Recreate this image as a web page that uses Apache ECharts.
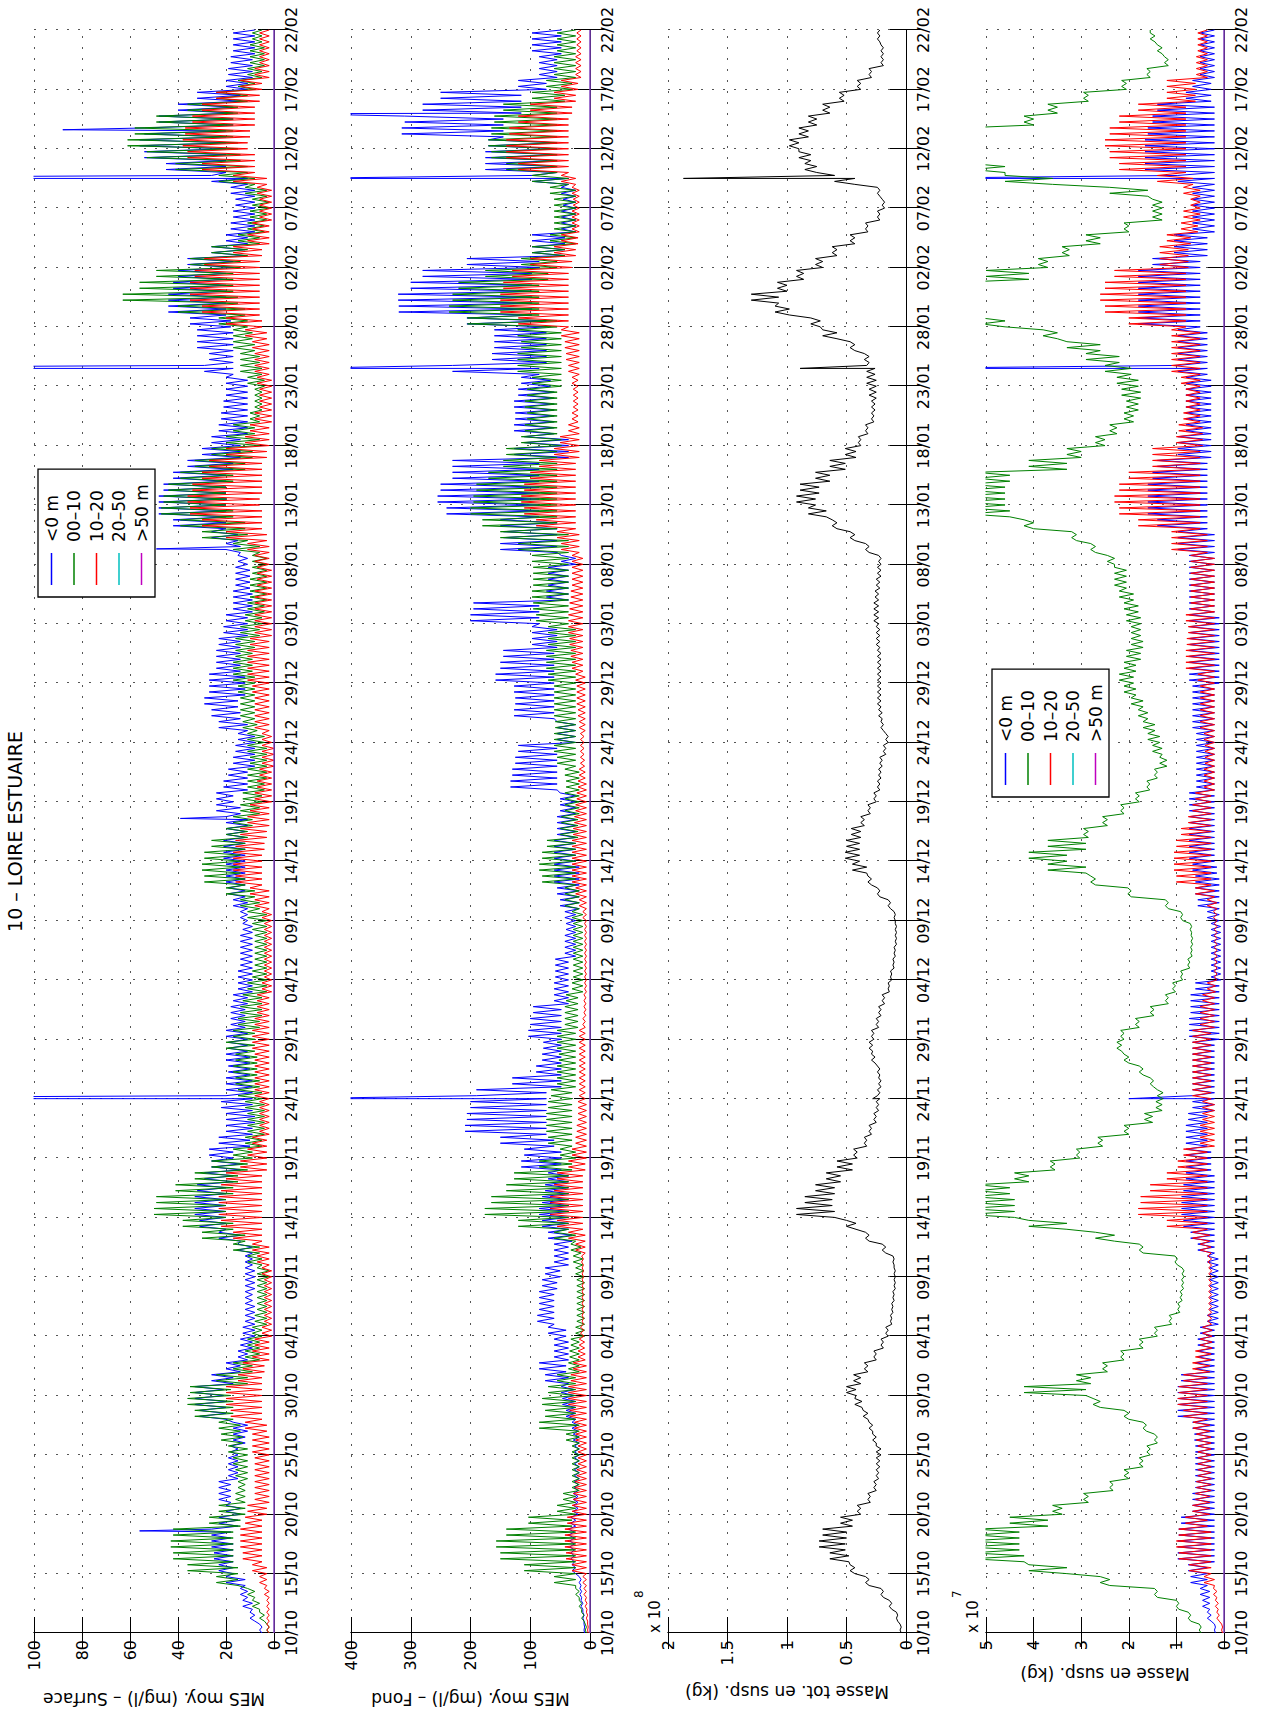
<!DOCTYPE html>
<html><head><meta charset="utf-8">
<script src="https://cdn.jsdelivr.net/npm/echarts@6/dist/echarts.min.js"></script>
<style>
html,body{margin:0;padding:0;background:#fff;overflow:hidden;}
#page{position:absolute;left:0;top:0;width:1263px;height:1711px;overflow:hidden;background:#fff;}
#chart{position:absolute;left:0;top:0;width:1711px;height:1263px;transform-origin:0 0;transform:translateY(1711px) rotate(-90deg);}
</style></head><body>
<div id="page"><div id="chart"></div></div>
<script>
// Day 0 = 10/10, day 135 = 22/02. Daily low/high of the tidal oscillation.
const dateTicks = ['10/10','15/10','20/10','25/10','30/10','04/11','09/11','14/11','19/11','24/11','29/11','04/12','09/12','14/12','19/12','24/12','29/12','03/01','08/01','13/01','18/01','23/01','28/01','02/02','07/02','12/02','17/02','22/02'];
const seriesNames = ['<0 m','00–10','10–20','20–50','>50 m'];

// Panel 1 : MES surface (mg/l)
const surfBlueLo = [5,8,9,11,12,17,17,17,18,15, 14,18,18,15,15,15,12,11,20,20, 21,17,14,11,9,8,8,8,9,8, 8,9,9,14,20,20,20,20,17,14, 17,10,9,8,9,9,9,10,10,11, 11,12,12,11,9,9,9,9,9,9, 11,11,12,12,12,12,12,12,11,14, 17,11,11,8,8,8,11,14,15,12, 12,14,14,14,11,11,9,9,10,10, 11,14,15,20,20,20,20,20,17,14, 14,11,11,11,11,11,17,17,17,17, 18,20,20,20,20,17,12,11,8,8, 8,8,11,20,20,20,20,17,17,14, 11,9,9,8,8,8];
const surfBlueHi = [6,10,13,14,20,23,25,26,26,23, 20,23,23,19,19,18,17,17,31,33, 33,26,20,15,14,13,12,12,12,12, 12,12,15,23,31,33,33,32,29,26, 27,23,20,20,22,20,20,19,20,19, 20,18,18,17,15,15,14,14,14,13, 14,17,19,20,20,21,21,20,20,24, 24,21,19,17,16,15,23,26,29,27, 27,24,24,23,21,20,17,17,16,16, 15,20,26,42,48,48,46,42,36,30, 26,23,22,21,20,20,29,27,32,32, 35,44,44,42,40,36,26,20,18,17, 16,18,26,45,54,56,54,48,40,32, 20,19,18,17,17,17];
const surfBlueSpikes = [[8.6,56],[45,300],[68.6,39],[91.3,49],[106.5,300],[122.5,300],[126.6,88]];
const surfGreenLo = [2,4,6,8,15,15,17,17,17,14, 12,12,12,11,11,11,13,14,17,17, 18,11,9,6,6,5,3,3,3,3, 2,5,6,12,17,20,20,17,15,11, 9,5,4,4,4,5,6,7,7,8, 8,6,5,5,3,3,3,3,3,3, 3,6,8,12,14,14,12,11,9,6, 5,4,3,3,3,4,7,8,8,8, 8,9,9,8,6,5,4,3,3,3, 3,6,11,12,17,20,20,17,12,9, 6,8,6,5,5,4,5,6,8,9, 11,12,15,17,17,14,11,6,4,3, 2,3,8,11,14,15,17,17,15,11, 8,5,4,4,5,5];
const surfGreenHi = [3,6,9,11,24,36,42,43,42,27, 23,16,15,16,17,19,22,23,33,36, 35,24,17,12,11,9,8,7,7,7, 7,11,17,30,38,50,49,41,33,26, 17,12,11,11,12,15,16,17,16,20, 17,15,14,13,11,9,8,8,8,9, 11,14,20,29,30,29,26,20,17,14, 13,11,11,10,11,11,13,14,14,15, 17,17,16,16,14,12,11,10,10,9, 9,17,30,39,47,46,44,39,33,26, 20,17,10,8,8,11,14,14,17,17, 23,40,63,56,49,35,26,15,11,10, 9,12,23,41,53,61,58,49,36,24, 15,11,10,10,9,8];
const surfRedLo = [2,2,2,2,3,3,5,5,5,5, 3,2,2,2,2,2,2,3,5,5, 5,5,4,2,2,1,1,1,1,1, 1,2,2,5,5,5,5,5,5,3, 3,3,2,2,2,2,2,2,2,2, 2,2,2,2,1,1,1,1,1,1, 1,2,2,5,5,5,4,3,2,2, 1,1,1,0,0,1,2,2,2,2, 2,2,2,2,1,1,1,1,1,1, 2,2,3,5,5,6,5,5,5,3, 2,2,1,1,1,1,2,2,2,3, 5,6,6,6,6,6,5,2,2,1, 1,1,3,8,8,11,10,8,8,6, 5,2,2,2,2,2];
const surfRedHi = [3,3,3,4,6,9,13,14,14,12, 11,8,8,8,8,9,9,12,18,20, 20,15,13,9,8,5,4,4,4,4, 5,7,9,17,22,23,23,22,20,14, 11,9,6,6,6,8,8,8,8,9, 9,8,7,7,5,4,4,4,4,4, 5,8,10,16,17,17,16,14,11,10, 8,7,6,5,5,5,8,8,8,9, 11,11,11,10,8,8,8,8,7,7, 8,11,20,30,35,36,34,30,27,20, 12,10,8,6,6,7,8,8,9,12, 20,30,35,35,33,29,17,11,9,6, 6,7,17,30,36,38,37,34,30,24, 14,8,6,6,6,6];

// Panel 2 : MES fond (mg/l)
const fondBlueLo = [9,10,12,14,15,24,26,26,26,24, 20,20,20,18,18,18,18,20,24,24, 26,36,40,36,36,40,60,60,60,55, 50,36,36,30,36,36,36,36,36,48, 48,60,73,73,73,73,48,48,48,48, 48,48,48,36,36,36,36,24,24,24, 24,18,18,18,18,24,24,24,24,24, 24,55,55,55,55,24,24,60,60,60, 60,60,60,55,55,85,85,36,36,36, 24,55,55,55,85,85,85,85,85,36, 36,60,60,60,60,66,85,73,73,73, 73,97,97,97,97,85,42,42,24,24, 24,24,36,55,55,55,145,145,115,115, 73,55,55,48,48,48];
const fondBlueHi = [10,12,15,17,18,30,32,34,36,32, 28,28,26,26,26,26,28,30,40,46, 48,75,85,60,60,70,88,85,85,80, 75,60,60,70,80,85,80,75,70,115, 110,150,209,206,200,190,130,90,80,78, 103,100,95,60,60,58,58,42,42,40, 42,50,55,60,60,60,60,55,55,50, 50,133,130,125,120,55,55,127,125,127, 158,150,145,97,97,200,195,73,70,70, 48,150,145,150,240,255,250,230,230,127, 110,127,125,127,120,115,230,164,160,160, 206,320,321,300,280,206,97,97,48,48, 45,48,97,175,175,170,315,310,280,250, 120,85,85,97,97,97];
const fondBlueSpikes = [[45,500],[106.5,500],[122.5,500],[127.95,500]];
const fondGreenLo = [6,10,14,18,24,24,24,24,24,30, 24,24,18,18,18,18,18,18,24,24, 24,24,18,18,18,9,9,9,9,9, 10,12,15,24,36,36,36,36,36,30, 24,30,30,30,30,30,24,24,24,24, 24,20,20,20,12,12,12,12,12,12, 12,18,18,24,24,24,24,20,20,18, 18,18,18,24,24,24,24,24,24,24, 24,24,24,24,24,36,36,36,36,36, 36,36,36,55,55,55,55,55,55,55, 48,55,55,55,55,48,48,48,48,48, 55,85,85,85,70,55,42,24,24,24, 24,24,36,55,55,55,55,55,55,42, 30,24,24,24,24,24];
const fondGreenHi = [8,14,18,24,60,110,150,157,140,103, 55,45,30,30,30,30,40,85,75,80, 70,55,36,34,32,24,22,22,22,22, 24,28,32,60,120,176,165,140,127,85, 50,70,73,73,70,65,55,55,52,55, 55,42,42,40,30,28,28,28,28,28, 30,42,42,80,85,80,72,50,48,42, 42,40,42,55,60,60,58,60,60,60, 70,73,73,70,70,90,95,97,95,95, 97,120,150,180,200,195,190,170,145,140, 115,109,105,109,105,97,121,121,115,121, 205,236,230,220,175,115,97,67,60,60, 60,67,97,140,165,170,165,160,145,97, 73,60,60,55,55,50];
const fondRedLo = [3,4,5,6,6,6,6,6,6,6, 6,6,6,6,6,6,6,6,6,6, 6,6,6,8,9,10,11,11,11,11, 11,11,8,8,12,12,12,12,12,8, 6,6,6,6,6,8,8,8,8,8, 8,8,7,7,6,6,6,6,6,6, 6,6,6,6,6,6,6,6,6,6, 6,6,8,9,10,10,8,8,8,8, 8,12,12,12,12,12,12,12,12,12, 12,18,18,24,24,24,24,24,24,18, 18,18,20,20,20,20,18,18,18,18, 36,36,36,36,36,30,24,20,18,18, 18,18,24,36,36,36,36,36,30,24, 20,15,15,15,15,15];
const fondRedHi = [4,6,8,10,12,30,40,42,42,38, 30,28,25,22,20,20,24,26,34,36, 36,32,28,20,18,16,13,13,13,13, 13,14,24,36,55,67,67,60,55,36, 30,24,22,20,20,18,18,18,18,18, 18,12,10,10,9,9,9,9,9,9, 12,18,24,30,30,30,30,28,26,24, 22,20,18,16,16,16,18,20,22,22, 24,30,32,34,36,36,34,32,30,30, 30,48,55,90,110,115,110,100,85,60, 50,36,30,28,28,30,36,40,42,48, 120,150,150,145,130,100,60,48,30,30, 28,30,48,120,140,140,135,120,100,60, 48,24,24,22,22,20];

// Panel 3 : masse totale en suspension (x 1e8 kg)
const massLo = [0.04,0.07,0.12,0.19,0.31,0.43,0.48,0.51,0.5,0.45, 0.38,0.3,0.25,0.23,0.22,0.21,0.25,0.28,0.32,0.37, 0.42,0.38,0.32,0.25,0.19,0.15,0.12,0.11,0.1,0.09, 0.09,0.1,0.17,0.31,0.42,0.6,0.62,0.6,0.55,0.45, 0.41,0.33,0.29,0.25,0.23,0.22,0.21,0.22,0.26,0.28, 0.27,0.23,0.21,0.18,0.14,0.12,0.1,0.09,0.08,0.08, 0.09,0.13,0.22,0.29,0.33,0.39,0.39,0.38,0.35,0.3, 0.25,0.22,0.21,0.2,0.17,0.15,0.19,0.2,0.21,0.21, 0.21,0.21,0.21,0.22,0.22,0.23,0.23,0.23,0.22,0.21, 0.21,0.31,0.43,0.58,0.67,0.76,0.73,0.64,0.51,0.42, 0.38,0.32,0.27,0.26,0.25,0.25,0.26,0.31,0.43,0.58, 0.72,0.98,1.07,1.0,0.86,0.7,0.58,0.43,0.32,0.22, 0.18,0.22,0.43,0.75,0.8,0.9,0.82,0.75,0.64,0.52, 0.38,0.29,0.19,0.19,0.22,0.22];
const massHi = [0.05,0.08,0.14,0.21,0.34,0.47,0.64,0.73,0.7,0.55, 0.41,0.32,0.27,0.25,0.25,0.25,0.28,0.31,0.36,0.43, 0.5,0.44,0.35,0.27,0.21,0.17,0.13,0.12,0.11,0.1, 0.1,0.11,0.2,0.34,0.5,0.92,0.85,0.76,0.67,0.58, 0.44,0.35,0.31,0.27,0.25,0.24,0.23,0.24,0.29,0.31, 0.29,0.25,0.23,0.2,0.15,0.13,0.11,0.1,0.09,0.09, 0.1,0.15,0.24,0.32,0.45,0.51,0.5,0.46,0.38,0.32, 0.27,0.24,0.23,0.22,0.19,0.17,0.21,0.23,0.24,0.24, 0.24,0.24,0.24,0.25,0.25,0.27,0.27,0.26,0.25,0.24, 0.23,0.34,0.47,0.62,0.82,0.92,0.89,0.76,0.64,0.51, 0.4,0.34,0.29,0.29,0.31,0.33,0.33,0.35,0.47,0.7, 0.8,1.1,1.3,1.08,0.92,0.76,0.62,0.47,0.34,0.24, 0.2,0.24,0.6,0.85,0.9,0.98,0.9,0.82,0.7,0.56, 0.41,0.31,0.21,0.21,0.24,0.24];
const massSpikes = [[45,0.28],[106.5,0.89],[122.5,1.87]];

// Panel 4 : masse en suspension par classe (x 1e7 kg)
const cBlueLo = [0.18,0.27,0.3,0.3,0.35,0.35,0.2,0.2,0.2,0.2, 0.2,0.2,0.2,0.2,0.2,0.2,0.2,0.2,0.2,0.2, 0.2,0.2,0.2,0.2,0.2,0.2,0.12,0.12,0.12,0.12, 0.12,0.12,0.2,0.2,0.2,0.2,0.2,0.2,0.2,0.27, 0.27,0.35,0.35,0.35,0.2,0.2,0.2,0.2,0.2,0.2, 0.1,0.1,0.1,0.1,0.1,0.07,0.07,0.07,0.07,0.07, 0.1,0.1,0.1,0.1,0.15,0.2,0.2,0.2,0.2,0.2, 0.2,0.2,0.2,0.2,0.2,0.2,0.2,0.2,0.2,0.2, 0.1,0.1,0.1,0.1,0.1,0.1,0.2,0.2,0.2,0.2, 0.2,0.2,0.2,0.35,0.35,0.35,0.35,0.35,0.35,0.27, 0.27,0.27,0.27,0.27,0.27,0.27,0.35,0.35,0.35,0.35, 0.5,0.5,0.5,0.5,0.5,0.5,0.35,0.35,0.2,0.2, 0.2,0.2,0.2,0.2,0.2,0.2,0.2,0.2,0.2,0.27, 0.27,0.2,0.2,0.2,0.2,0.2];
const cBlueHi = [0.2,0.35,0.45,0.5,0.7,0.75,0.97,0.97,0.95,0.9, 0.66,0.66,0.6,0.6,0.6,0.6,0.62,0.66,0.97,0.97, 0.97,0.9,0.6,0.55,0.55,0.5,0.35,0.3,0.3,0.3, 0.3,0.35,0.55,0.7,0.85,0.89,0.89,0.85,0.8,0.8, 0.8,0.8,0.8,0.75,0.66,0.66,0.66,0.66,0.66,0.66, 0.73,0.73,0.7,0.7,0.6,0.27,0.27,0.27,0.27,0.27, 0.35,0.55,0.6,0.6,0.66,0.73,0.73,0.73,0.73,0.73, 0.73,0.58,0.58,0.58,0.58,0.58,0.66,0.66,0.66,0.66, 0.73,0.73,0.73,0.73,0.73,0.73,0.73,0.73,0.73,0.73, 0.73,0.97,0.97,1.4,1.6,1.6,1.6,1.5,1.4,0.97, 0.97,0.8,0.8,0.8,0.8,0.8,0.97,0.97,0.97,0.97, 1.8,1.8,1.8,1.8,1.8,1.5,1.05,1.05,0.66,0.66, 0.66,0.66,0.97,1.66,1.66,1.66,1.6,1.5,1.4,0.8, 0.66,0.5,0.5,0.5,0.5,0.5];
const cBlueSpikes = [[45,2.0],[106.5,7],[122.5,7]];
const cGreenLo = [0.48,0.7,0.95,1.4,2.4,3.3,4.2,4.3,4.3,3.7, 3.4,2.85,2.33,2.0,1.7,1.55,1.4,1.63,2.0,2.6, 2.9,2.8,2.45,2.1,1.7,1.4,1.1,0.93,0.88,0.85, 0.84,0.98,1.7,2.3,3.3,4.4,4.4,4.5,4.1,3.55, 3.03,2.55,2.0,1.5,1.3,1.28,1.48,1.7,2.0,2.15, 2.1,1.78,1.47,1.17,1.02,0.87,0.72,0.67,0.66,0.68, 0.87,1.17,1.95,2.7,2.9,3.3,2.9,2.85,2.45,2.1, 1.78,1.56,1.4,1.2,1.3,1.35,1.45,1.6,1.7,1.85, 1.9,1.85,1.75,1.7,1.75,1.75,1.8,1.9,2.05,2.05, 2.3,2.7,3.1,4.0,4.5,4.6,4.6,4.5,3.3,3.0, 2.5,2.25,1.9,1.8,1.75,1.8,1.95,2.2,2.6,3.5, 4.6,5.2,5.3,5.2,4.1,3.7,3.25,2.6,2.0,1.3, 1.3,1.6,3.6,4.6,5.1,5.2,5.1,4.0,3.5,2.85, 2.05,1.55,1.17,1.3,1.45,1.55];
const cGreenHi = [0.52,0.75,1.0,1.46,2.6,4.1,5.3,5.4,5.2,4.5, 3.6,2.95,2.4,2.1,1.78,1.62,1.46,1.7,2.1,2.75, 4.2,3.1,2.55,2.17,1.78,1.46,1.15,0.97,0.92,0.89, 0.88,1.03,1.78,2.7,4.1,5.4,5.3,5.2,4.4,3.65, 3.1,2.65,2.1,1.67,1.43,1.4,1.55,1.78,2.1,2.25, 2.17,1.86,1.55,1.23,1.08,0.91,0.76,0.7,0.69,0.71, 0.91,1.23,2.02,2.8,3.7,4.1,3.7,2.95,2.55,2.17, 1.86,1.62,1.46,1.35,1.5,1.6,1.7,1.8,1.95,2.1, 2.2,2.1,2.05,1.95,1.95,2.05,2.1,2.2,2.3,2.3, 2.45,2.8,3.2,4.2,5.4,5.5,5.4,5.2,4.1,3.3, 2.7,2.4,2.1,2.05,2.15,2.25,2.5,2.9,3.3,3.8, 5.1,5.6,5.8,5.6,5.0,3.9,3.4,2.9,2.1,1.5, 1.5,2.4,4.6,5.3,5.5,5.6,5.5,4.2,3.7,2.95, 2.15,1.62,1.25,1.4,1.55,1.65];
const cRedLo = [0.03,0.1,0.12,0.15,0.2,0.27,0.27,0.27,0.27,0.35, 0.3,0.3,0.27,0.27,0.27,0.27,0.27,0.3,0.35,0.35, 0.35,0.35,0.3,0.27,0.25,0.25,0.26,0.26,0.26,0.26, 0.26,0.26,0.27,0.3,0.35,0.35,0.35,0.35,0.35,0.35, 0.35,0.2,0.2,0.2,0.2,0.27,0.27,0.27,0.27,0.27, 0.27,0.2,0.2,0.2,0.18,0.15,0.15,0.15,0.15,0.15, 0.15,0.15,0.2,0.27,0.27,0.27,0.27,0.27,0.27,0.27, 0.27,0.2,0.2,0.2,0.2,0.2,0.2,0.2,0.2,0.2, 0.2,0.2,0.2,0.2,0.2,0.2,0.2,0.2,0.2,0.2, 0.2,0.35,0.35,0.5,0.5,0.5,0.5,0.5,0.5,0.5, 0.45,0.45,0.5,0.5,0.5,0.5,0.5,0.5,0.5,0.5, 0.8,0.8,0.8,0.8,0.8,0.75,0.75,0.7,0.55,0.5, 0.5,0.5,0.65,0.8,0.8,0.8,0.8,0.8,0.8,0.6, 0.6,0.35,0.35,0.35,0.35,0.35];
const cRedHi = [0.05,0.15,0.18,0.22,0.42,0.73,0.95,1.0,0.95,0.81, 0.66,0.6,0.58,0.55,0.55,0.55,0.58,0.65,0.85,0.97, 0.95,0.85,0.66,0.6,0.5,0.45,0.34,0.32,0.32,0.32, 0.32,0.34,0.5,0.66,1.2,1.8,1.75,1.55,1.2,0.97, 0.85,0.5,0.5,0.45,0.45,0.66,0.66,0.66,0.66,0.66, 0.66,0.5,0.5,0.45,0.35,0.2,0.2,0.2,0.2,0.2, 0.22,0.35,0.6,1.0,1.05,1.05,1.0,0.9,0.75,0.66, 0.6,0.42,0.42,0.4,0.4,0.42,0.5,0.5,0.5,0.5, 0.55,0.8,0.8,0.78,0.75,0.8,0.7,0.7,0.7,0.7, 0.7,1.1,1.1,1.8,2.2,2.3,2.2,2.0,1.5,1.5, 1.0,0.95,0.85,0.8,0.8,0.9,1.1,1.1,1.1,1.1, 2.0,2.5,2.6,2.5,2.3,1.35,1.35,1.2,0.9,0.85, 0.7,0.85,1.4,2.2,2.4,2.5,2.4,2.2,1.8,1.2, 1.2,0.58,0.58,0.55,0.55,0.55];

// Depth classes 20-50 m and >50 m stay at zero over the whole period
const flatDays = [0, 135];
const flatZero = [0, 0];

const FONT = 'DejaVu Sans';
const COL = {blue:'#0000ff', green:'#008000', red:'#ff0000', cyan:'#00bfbf', mag:'#bf00bf', black:'#000000'};

function tide(lo, hi, spikes) {
  const pts = [];
  for (let d = 0; d < lo.length; d++) {
    pts.push([d, lo[d]]);
    if (d < lo.length - 1) {
      pts.push([d + 0.25, hi[d]]);
      pts.push([d + 0.5, lo[d]]);
      pts.push([d + 0.75, hi[d]]);
    }
  }
  (spikes || []).forEach(s => pts.push([s[0], s[1]]));
  pts.sort((a, b) => a[0] - b[0]);
  return pts;
}
function flat() { return flatDays.map((d, i) => [d, flatZero[i]]); }

const panels = [
  {top:34,  height:240, max:100, interval:20,  name:'MES moy. (mg/l) – Surface', gap:57},
  {top:351, height:239, max:400, interval:100, name:'MES moy. (mg/l) – Fond',    gap:57},
  {top:668, height:238, max:2,   interval:0.5, name:'Masse tot. en susp. (kg)', gap:50},
  {top:986, height:238, max:5,   interval:1,   name:'Masse en susp. (kg)',       gap:32}
];

const grid = [], xAxis = [], yAxis = [];
const tickStyle = {show:true, inside:true, length:16, lineStyle:{color:'#000', width:1}};
const lineAxis = {show:true, lineStyle:{color:'#000', width:1}};
const dotted = {show:true, lineStyle:{color:'#555', width:1, type:[2,9]}};
panels.forEach((p, i) => {
  grid.push({left:78, right:30, top:p.top, height:p.height, containLabel:false, outerBoundsMode:'none'});
  xAxis.push({type:'value', gridIndex:i, min:0, max:135, interval:5, position:'bottom',
    axisLine:lineAxis, axisTick:tickStyle, splitLine:dotted,
    axisLabel:{show:true, margin:9, fontFamily:FONT, fontSize:16, color:'#000',
      formatter: v => dateTicks[Math.round(v / 5)]}});
  xAxis.push({type:'value', gridIndex:i, min:0, max:135, interval:5, position:'top',
    axisLine:lineAxis, axisTick:tickStyle, splitLine:{show:false}, axisLabel:{show:false}});
  yAxis.push({type:'value', gridIndex:i, min:0, max:p.max, interval:p.interval, position:'left',
    axisLine:lineAxis, axisTick:tickStyle, splitLine:dotted,
    axisLabel:{show:true, margin:7, fontFamily:FONT, fontSize:16, color:'#000'},
    name:p.name, nameLocation:'middle', nameGap:p.gap,
    nameTextStyle:{fontFamily:FONT, fontSize:17, color:'#000'}});
  yAxis.push({type:'value', gridIndex:i, min:0, max:p.max, interval:p.interval, position:'right',
    axisLine:lineAxis, axisTick:tickStyle, splitLine:{show:false}, axisLabel:{show:false}});
});

function ser(name, color, panel, data, clip) {
  return {type:'line', name:name, xAxisIndex:2*panel, yAxisIndex:2*panel, data:data,
    symbol:'none', showSymbol:false, clip: clip !== false, animation:false,
    lineStyle:{color:color, width:1}, itemStyle:{color:color}};
}
const series = [
  ser(seriesNames[0], COL.blue, 0, tide(surfBlueLo, surfBlueHi, surfBlueSpikes)),
  ser(seriesNames[1], COL.green, 0, tide(surfGreenLo, surfGreenHi)),
  ser(seriesNames[2], COL.red, 0, tide(surfRedLo, surfRedHi)),
  ser(seriesNames[3], COL.cyan, 0, flat(), false),
  ser(seriesNames[4], COL.mag, 0, flat(), false),
  ser(seriesNames[0], COL.blue, 1, tide(fondBlueLo, fondBlueHi, fondBlueSpikes)),
  ser(seriesNames[1], COL.green, 1, tide(fondGreenLo, fondGreenHi)),
  ser(seriesNames[2], COL.red, 1, tide(fondRedLo, fondRedHi)),
  ser(seriesNames[3], COL.cyan, 1, flat(), false),
  ser(seriesNames[4], COL.mag, 1, flat(), false),
  ser('Total', COL.black, 2, tide(massLo, massHi, massSpikes)),
  ser(seriesNames[0], COL.blue, 3, tide(cBlueLo, cBlueHi, cBlueSpikes)),
  ser(seriesNames[1], COL.green, 3, tide(cGreenLo, cGreenHi)),
  ser(seriesNames[2], COL.red, 3, tide(cRedLo, cRedHi)),
  ser(seriesNames[3], COL.cyan, 3, flat(), false),
  ser(seriesNames[4], COL.mag, 3, flat(), false)
];

function legendAt(left, top) {
  return {data:seriesNames, orient:'vertical', left:left, top:top, icon:'rect',
    itemWidth:32, itemHeight:1.5, itemGap:5.5, padding:[5,15,5,12],
    borderColor:'#000', borderWidth:1.3, backgroundColor:'#fff', selectedMode:false,
    textStyle:{fontFamily:FONT, fontSize:17, color:'#000', lineHeight:17, padding:[0,0,0,6]}};
}
const txt = (s, extra) => Object.assign({fontFamily:FONT, color:'#000', fontWeight:'normal'}, extra);
const option = {
  backgroundColor:'#fff', animation:false,
  title:[
    {text:'10 – LOIRE ESTUAIRE', left:879.5, top:5, textAlign:'center', padding:0, textStyle:txt('', {fontSize:19})},
    {text:'x 10', left:78, top:647, padding:0, textStyle:txt('', {fontSize:15})},
    {text:'8', left:113, top:633, padding:0, textStyle:txt('', {fontSize:12})},
    {text:'x 10', left:78, top:965, padding:0, textStyle:txt('', {fontSize:15})},
    {text:'7', left:113, top:951, padding:0, textStyle:txt('', {fontSize:12})}
  ],
  legend:[legendAt(1114, 38), legendAt(914, 992)],
  grid:grid, xAxis:xAxis, yAxis:yAxis, series:series
};
const chart = echarts.init(document.getElementById('chart'), null, {renderer:'svg', width:1711, height:1263});
chart.setOption(option);
</script>
</body></html>
